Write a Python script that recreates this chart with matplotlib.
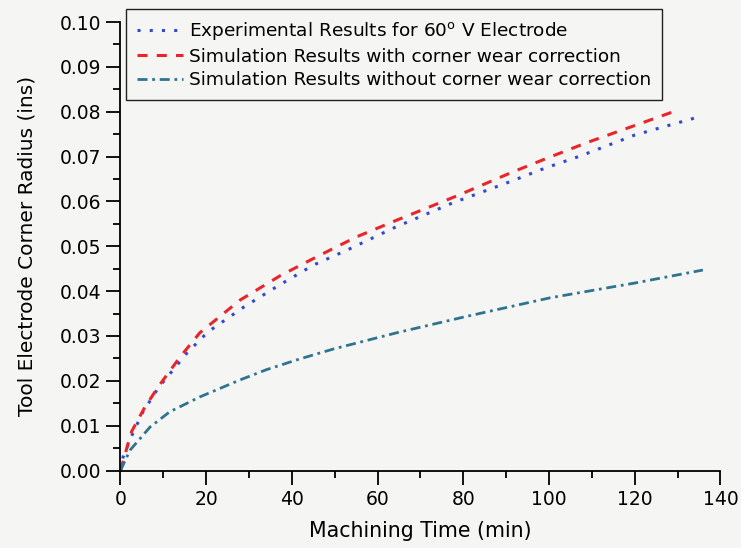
import matplotlib.pyplot as plt
from matplotlib.ticker import MultipleLocator

plt.rcParams["font.family"] = ["DejaVu Sans"]

# Experimental results, 60 deg V electrode (blue dotted)
exp_time = [0, 0.6, 2.7, 5.2, 8.8, 13.2, 15.5, 20.4, 28.7, 36.8, 45, 53.2, 64, 77.6, 90.9, 99,
            107.2, 120, 134]
exp_radius = [0.0, 0.003, 0.0079, 0.013, 0.0184, 0.0235, 0.0262, 0.0309, 0.0364, 0.0412, 0.0458,
              0.0493, 0.0542, 0.0597, 0.0644, 0.0674, 0.0701, 0.0748, 0.0786]

# Simulation with corner wear correction (red dashed)
corr_time = [0, 1.8, 2.6, 5.5, 8.75, 13.9, 18.5, 27.9, 37.2, 46.5, 55.1, 64.4, 78.4, 91.6, 99.7,
             108.8, 128.7]
corr_radius = [0.0, 0.0061, 0.0087, 0.0138, 0.0186, 0.0253, 0.0307, 0.038, 0.0434, 0.048, 0.0521,
               0.0558, 0.0612, 0.0666, 0.0697, 0.0731, 0.0799]

# Simulation without corner wear correction (teal dash-dot)
nocorr_time = [0, 2.2, 6.9, 11.5, 18.5, 27.9, 34.1, 41.9, 49.7, 64.4, 80, 100.2, 120, 135.9]
nocorr_radius = [0.0, 0.0045, 0.0097, 0.0131, 0.0164, 0.0202, 0.0225, 0.0249, 0.0271, 0.0307,
                 0.0342, 0.0385, 0.0418, 0.0447]

bg = "#f5f6f3"
fig = plt.figure(figsize=(7.41, 5.48), dpi=100, facecolor=bg)
ax = fig.add_axes([0.1626, 0.1414, 0.8097, 0.8184], facecolor=bg)

ax.plot(exp_time, exp_radius, color="#3348d0", linestyle=(0, (1, 3)), linewidth=2.2,
        label="Experimental Results for 60$^{\\mathrm{o}}$ V Electrode")
ax.plot(corr_time, corr_radius, color="#e8252a", linestyle=(0, (3.3, 3)), linewidth=2.2,
        label="Simulation Results with corner wear correction")
ax.plot(nocorr_time, nocorr_radius, color="#2f7391", linestyle=(0, (3.6, 1.7, 1, 1.7)), linewidth=2,
        label="Simulation Results without corner wear correction")

ax.set_xlim(0, 140)
ax.set_ylim(0, 0.10)
ax.xaxis.set_major_locator(MultipleLocator(20))
ax.xaxis.set_minor_locator(MultipleLocator(10))
ax.yaxis.set_major_locator(MultipleLocator(0.01))
ax.yaxis.set_minor_locator(MultipleLocator(0.005))
ax.yaxis.set_major_formatter(plt.FuncFormatter(lambda v, p: f"{v:.2f}"))

ax.spines["top"].set_visible(False)
ax.spines["right"].set_visible(False)
for side in ["left", "bottom"]:
    ax.spines[side].set_linewidth(1.3)
ax.tick_params(which="major", direction="out", length=10, width=1.3, labelsize=13.5, pad=4)
ax.tick_params(which="minor", direction="out", length=5, width=1.3)

ax.set_xlabel("Machining Time (min)", fontsize=14.8)
ax.set_ylabel("Tool Electrode Corner Radius (ins)", fontsize=14.5)
ax.xaxis.set_label_coords(0.5, -0.113)
ax.yaxis.set_label_coords(-0.14, 0.5)

leg = ax.legend(loc="upper left", bbox_to_anchor=(0.170, 0.9836), bbox_transform=fig.transFigure,
                fontsize=13.3, frameon=True, fancybox=False, handlelength=2.5, handletextpad=0.3,
                borderpad=0.6, labelspacing=0.3, borderaxespad=0)
leg.get_frame().set_edgecolor("#222222")
leg.get_frame().set_linewidth(1.0)
leg.get_frame().set_facecolor(bg)
leg.get_frame().set_alpha(1)

fig.savefig("out.png", dpi=100, facecolor=bg)
